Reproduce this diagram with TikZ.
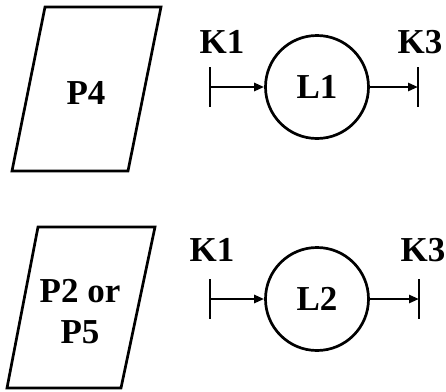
\documentclass[tikz,border=0pt]{standalone}
\usepackage{fontspec}
\setmainfont{Liberation Serif}
\usetikzlibrary{arrows.meta,positioning}
\tikzset{
  lbl/.style={font=\fontsize{35}{41}\selectfont\bfseries, inner sep=0pt},
  lnode/.style={circle, draw, minimum size=103pt, inner sep=0pt,
    font=\fontsize{35}{41}\selectfont\bfseries},
  flow/.style={-{Triangle[length=10pt,width=8pt]}},
}

\begin{document}
\begin{tikzpicture}[x=1pt,y=-1pt,line width=2.7pt,line join=miter]
  \useasboundingbox (0,0) rectangle (446,391);
  % upper row
  \draw (45,7) -- (161,7) -- (128,171) -- (12,171) -- cycle;
  \node[lbl] (p4) at (86,93) {P4};
  \node[lnode] (l1) at (317,87) {L1};
  \coordinate (in1) at (210,87);
  \coordinate (out1) at (418,87);
  \draw ([yshift=20pt]in1) -- ([yshift=-20pt]in1);
  \draw ([yshift=20pt]out1) -- ([yshift=-20pt]out1);
  \draw[flow] (in1) -- (l1);
  \draw[flow] (l1) -- (out1);
  \node[lbl] (k1a) at (222,42) {K1};
  \node[lbl] (k3a) at (420,42) {K3};
  % lower row
  \draw (38,227) -- (155,227) -- (121,388) -- (7,388) -- cycle;
  \node[lbl, align=center] (p25) at (80,312) {P2 or\\P5};
  \node[lnode] (l2) at (317,299) {L2};
  \coordinate (in2) at (210,299);
  \coordinate (out2) at (419,299);
  \draw ([yshift=20pt]in2) -- ([yshift=-20pt]in2);
  \draw ([yshift=20pt]out2) -- ([yshift=-20pt]out2);
  \draw[flow] (in2) -- (l2);
  \draw[flow] (l2) -- (out2);
  \node[lbl] (k1b) at (212,250) {K1};
  \node[lbl] (k3b) at (423,250) {K3};
\end{tikzpicture}
\end{document}
